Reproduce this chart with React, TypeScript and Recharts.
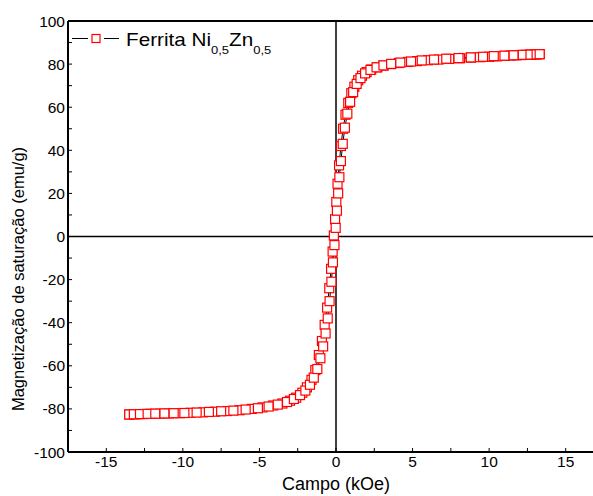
import { ScatterChart, Scatter, XAxis, YAxis, ReferenceLine } from 'recharts';

// campo (kOe) e magnetização (emu/g), ramo descendente
const descH = [
  13.3, 13.0, 12.7, 12.4, 12.1, 11.8, 11.4, 11.0, 10.5, 10.0, 9.4, 8.8, 8.1, 7.4, 6.7, 6.0,
  5.3, 4.7, 4.1, 3.6, 3.1, 2.7, 2.3, 2.0, 1.7, 1.45, 1.2, 1.0, 0.8, 0.62, 0.46, 0.32, 0.2,
  0.1, 0.02, -0.06, -0.14, -0.22, -0.32, -0.44, -0.58, -0.74, -0.92, -1.12, -1.35, -1.6,
  -1.9, -2.2, -2.6, -3.0, -3.5, -4.1, -4.8, -5.5, -6.3, -7.1, -7.9, -8.7, -9.5, -10.2,
  -10.9, -11.5, -12.1, -12.6, -13.1, -13.5,
];
const descM = [
  84.6, 84.5, 84.4, 84.3, 84.2, 84.1, 84.0, 83.8, 83.6, 83.4, 83.2, 83.0, 82.7, 82.4, 82.1,
  81.8, 81.4, 81.0, 80.5, 80.0, 79.3, 78.5, 77.5, 76.3, 74.6, 72.5, 69.5, 66.5, 62.0, 56.5,
  50.0, 42.0, 33.0, 24.5, 16.0, 8.0, 0.5, -7.0, -15.0, -24.0, -33.0, -41.0, -48.5, -55.0,
  -62.0, -66.5, -70.0, -72.5, -74.8, -76.2, -77.5, -78.4, -79.3, -80.0, -80.6, -81.0,
  -81.3, -81.6, -81.8, -82.0, -82.1, -82.2, -82.3, -82.4, -82.5, -82.6,
];

// ramo ascendente
const ascH = [
  -13.5, -13.2, -12.8, -12.3, -11.8, -11.2, -10.6, -9.9, -9.1, -8.3, -7.5, -6.7, -5.9, -5.1,
  -4.4, -3.8, -3.2, -2.75, -2.35, -2.0, -1.7, -1.45, -1.22, -1.02, -0.84, -0.68, -0.54,
  -0.42, -0.3, -0.2, -0.1, -0.02, 0.06, 0.14, 0.22, 0.32, 0.44, 0.58, 0.74, 0.92, 1.12,
  1.35, 1.6, 1.9, 2.25, 2.65, 3.1, 3.6, 4.2, 4.9, 5.6, 6.4, 7.2, 8.0, 8.8, 9.6, 10.3, 11.0,
  11.6, 12.2, 12.7, 13.1, 13.3,
];
const ascM = [
  -82.6, -82.5, -82.4, -82.3, -82.2, -82.1, -82.0, -81.9, -81.7, -81.4, -81.1, -80.8, -80.3,
  -79.7, -78.9, -78.0, -76.8, -75.4, -73.6, -71.5, -68.8, -65.5, -61.5, -56.5, -51.0, -45.0,
  -38.0, -30.0, -21.0, -12.0, -4.0, 4.0, 12.0, 20.0, 27.5, 35.0, 43.0, 50.5, 57.0, 62.5,
  67.0, 70.8, 73.5, 75.7, 77.3, 78.5, 79.4, 80.1, 80.7, 81.2, 81.7, 82.1, 82.5, 82.8, 83.1,
  83.4, 83.7, 83.9, 84.1, 84.3, 84.4, 84.5, 84.6,
];

const xTicks = [-15, -12.5, -10, -7.5, -5, -2.5, 0, 2.5, 5, 7.5, 10, 12.5, 15];
const yTicks = [-100, -90, -80, -70, -60, -50, -40, -30, -20, -10, 0, 10, 20, 30, 40, 50, 60, 70, 80, 90, 100];

const descData = descH.map((h, i) => ({ h, m: descM[i] }));
const ascData = ascH.map((h, i) => ({ h, m: ascM[i] }));

const FONT = '"Liberation Sans", Arial, sans-serif';

const Square = (props: any) => {
  const { cx, cy } = props;
  if (cx == null || cy == null) return <g />;
  return (
    <rect x={cx - 4.5} y={cy - 4.5} width={9} height={9} fill="#fff" stroke="#ff0000" strokeWidth={1.2} />
  );
};

const Nothing = () => <g />;

export default function App() {
  return (
    <div style={{ position: 'absolute', left: 0, top: 0, width: 593, height: 496, overflow: 'hidden', background: '#fff' }}>
      <ScatterChart width={620} height={496} margin={{ top: 21, right: 16, bottom: 0, left: 0 }}>
        <XAxis
          type="number"
          dataKey="h"
          domain={[-17.5, 17.5]}
          ticks={xTicks}
          interval={0}
          tickFormatter={(v: number) => (v % 5 === 0 ? String(v) : '')}
          height={44}
          tickSize={-4}
          tickMargin={8}
          axisLine={{ stroke: '#000', strokeWidth: 2 }}
          tickLine={{ stroke: '#000', strokeWidth: 1 }}
          tick={{ fill: '#000', fontSize: 15.5, fontFamily: FONT }}
        />
        <YAxis
          type="number"
          dataKey="m"
          domain={[-100, 100]}
          ticks={yTicks}
          interval={0}
          tickFormatter={(v: number) => (v % 20 === 0 ? String(v) : '')}
          width={68}
          tickSize={-4}
          tickMargin={7}
          axisLine={{ stroke: '#000', strokeWidth: 2 }}
          tickLine={{ stroke: '#000', strokeWidth: 1 }}
          tick={{ fill: '#000', fontSize: 15.5, fontFamily: FONT }}
        />
        <ReferenceLine y={100} stroke="#000" strokeWidth={2} />
        <ReferenceLine y={0} stroke="#000" strokeWidth={1.5} />
        <ReferenceLine x={0} stroke="#000" strokeWidth={1.5} />
        <Scatter data={descData} line={{ stroke: '#000', strokeWidth: 1 }} shape={Nothing} isAnimationActive={false} />
        <Scatter data={ascData} line={{ stroke: '#000', strokeWidth: 1 }} shape={Nothing} isAnimationActive={false} />
        <Scatter data={descData} shape={Square} isAnimationActive={false} />
        <Scatter data={ascData} shape={Square} isAnimationActive={false} />
      </ScatterChart>
      <svg width={593} height={496} style={{ position: 'absolute', left: 0, top: 0, pointerEvents: 'none' }}>
        <line x1={72} y1={38.5} x2={88} y2={38.5} stroke="#000" strokeWidth={1} />
        <line x1={104} y1={38.5} x2={119} y2={38.5} stroke="#000" strokeWidth={1} />
        <rect x={92} y={34.5} width={8} height={8} fill="#fff" stroke="#ff0000" strokeWidth={1.2} />
        <text transform="translate(126,46) scale(1.15,1)" fontFamily={FONT} fontSize={18} fill="#000">
          Ferrita Ni
          <tspan dy={7.5} fontSize={11.3}>0,5</tspan>
          <tspan dy={-7.5}>Zn</tspan>
          <tspan dy={7.5} fontSize={11.3}>0,5</tspan>
        </text>
        <text
          x={0}
          y={0}
          transform="translate(24,279) rotate(-90)"
          textAnchor="middle"
          fontFamily={FONT}
          fontSize={16.5}
          fill="#000"
        >
          Magnetização de saturação (emu/g)
        </text>
        <text x={336} y={490} textAnchor="middle" fontFamily={FONT} fontSize={18} fill="#000">
          Campo (kOe)
        </text>
      </svg>
    </div>
  );
}
